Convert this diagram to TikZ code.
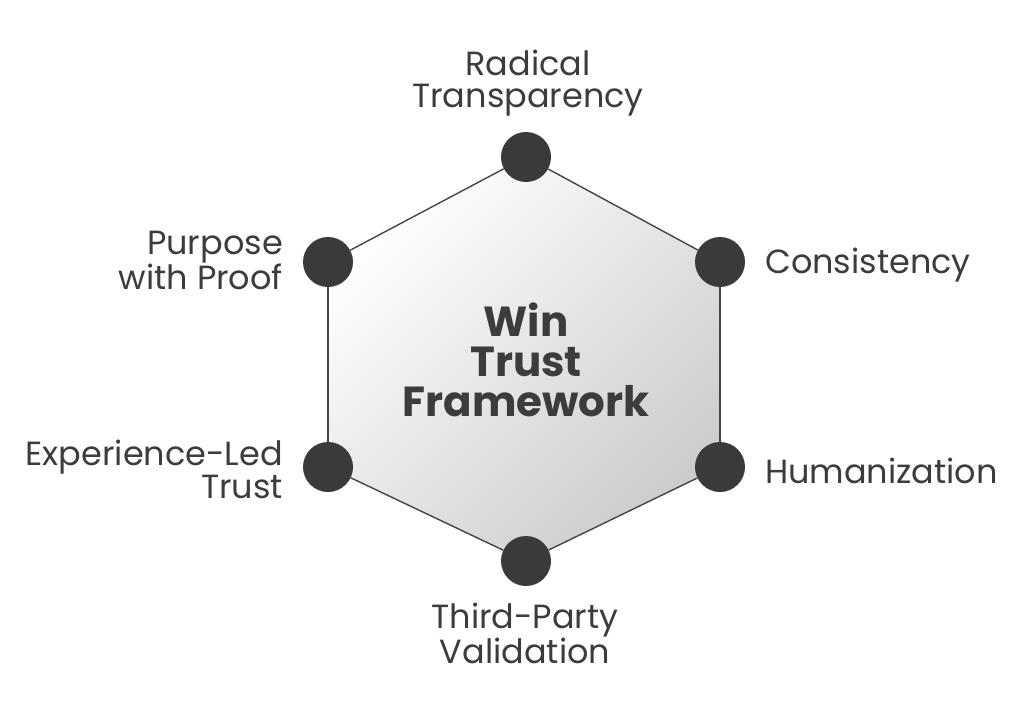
\documentclass[tikz,border=0pt]{standalone}
\usepackage{fontspec}
\setmainfont{Poppins}
\usetikzlibrary{positioning}

\definecolor{dotgray}{HTML}{3A3A3A}
\definecolor{txtgray}{HTML}{3C3C3C}
\definecolor{edgegray}{HTML}{454545}

\tikzset{
  dot/.style={circle, fill=dotgray, minimum size=50pt, inner sep=0pt},
  lbl/.style={text=txtgray, inner sep=0pt, font=\fontsize{33.5}{32}\selectfont},
  edge/.style={draw=edgegray, line width=1.4pt},
}

\begin{document}
\begin{tikzpicture}[x=1pt,y=-1pt]
		\useasboundingbox (0,0) rectangle (1024,717);

		% Corners of the hexagon
		\coordinate (c1) at (526,157);
		\coordinate (c2) at (720,262);
		\coordinate (c3) at (720,467);
		\coordinate (c4) at (526,561);
		\coordinate (c5) at (328,467);
		\coordinate (c6) at (328,262);

		% Shaded body of the hexagon
		\shade[left color=white, right color=black!20, shading angle=45]
		(c1) -- (c2) -- (c3) -- (c4) -- (c5) -- (c6) -- cycle;

		% Dots on the corners
		\node[dot] (top) at (c1) {};
		\node[dot] (upright) at (c2) {};
		\node[dot] (lowright) at (c3) {};
		\node[dot] (bottom) at (c4) {};
		\node[dot] (lowleft) at (c5) {};
		\node[dot] (upleft) at (c6) {};

		% Sides of the hexagon
		\draw[edge] (top) -- (upright);
		\draw[edge] (upright) -- (lowright);
		\draw[edge] (lowright) -- (bottom);
		\draw[edge] (bottom) -- (lowleft);
		\draw[edge] (lowleft) -- (upleft);
		\draw[edge] (upleft) -- (top);

		% Title in the middle
		\node[text=txtgray, align=center, font=\fontsize{42}{40}\selectfont\bfseries] (title) at (526,360) {Win\\Trust\\Framework};

		% Labels round the dots
		\node[lbl, align=center, anchor=north] (radical) at (528,50) {Radical\\Transparency};
		\node[lbl, anchor=base west] (consistency) at (765,273) {Consistency};
		\node[lbl, anchor=base west] (humanization) at (765,483) {Humanization};
		\node[lbl, align=center, anchor=north] (thirdparty) at (525,603) {Third-Party\\Validation};
		\node[lbl, align=right, anchor=north east] (experience) at (283,440) {Experience-Led\\Trust};
		\node[lbl, align=right, anchor=north east] (purpose) at (283,231) {Purpose\\with Proof};
	\end{tikzpicture}
\end{document}
